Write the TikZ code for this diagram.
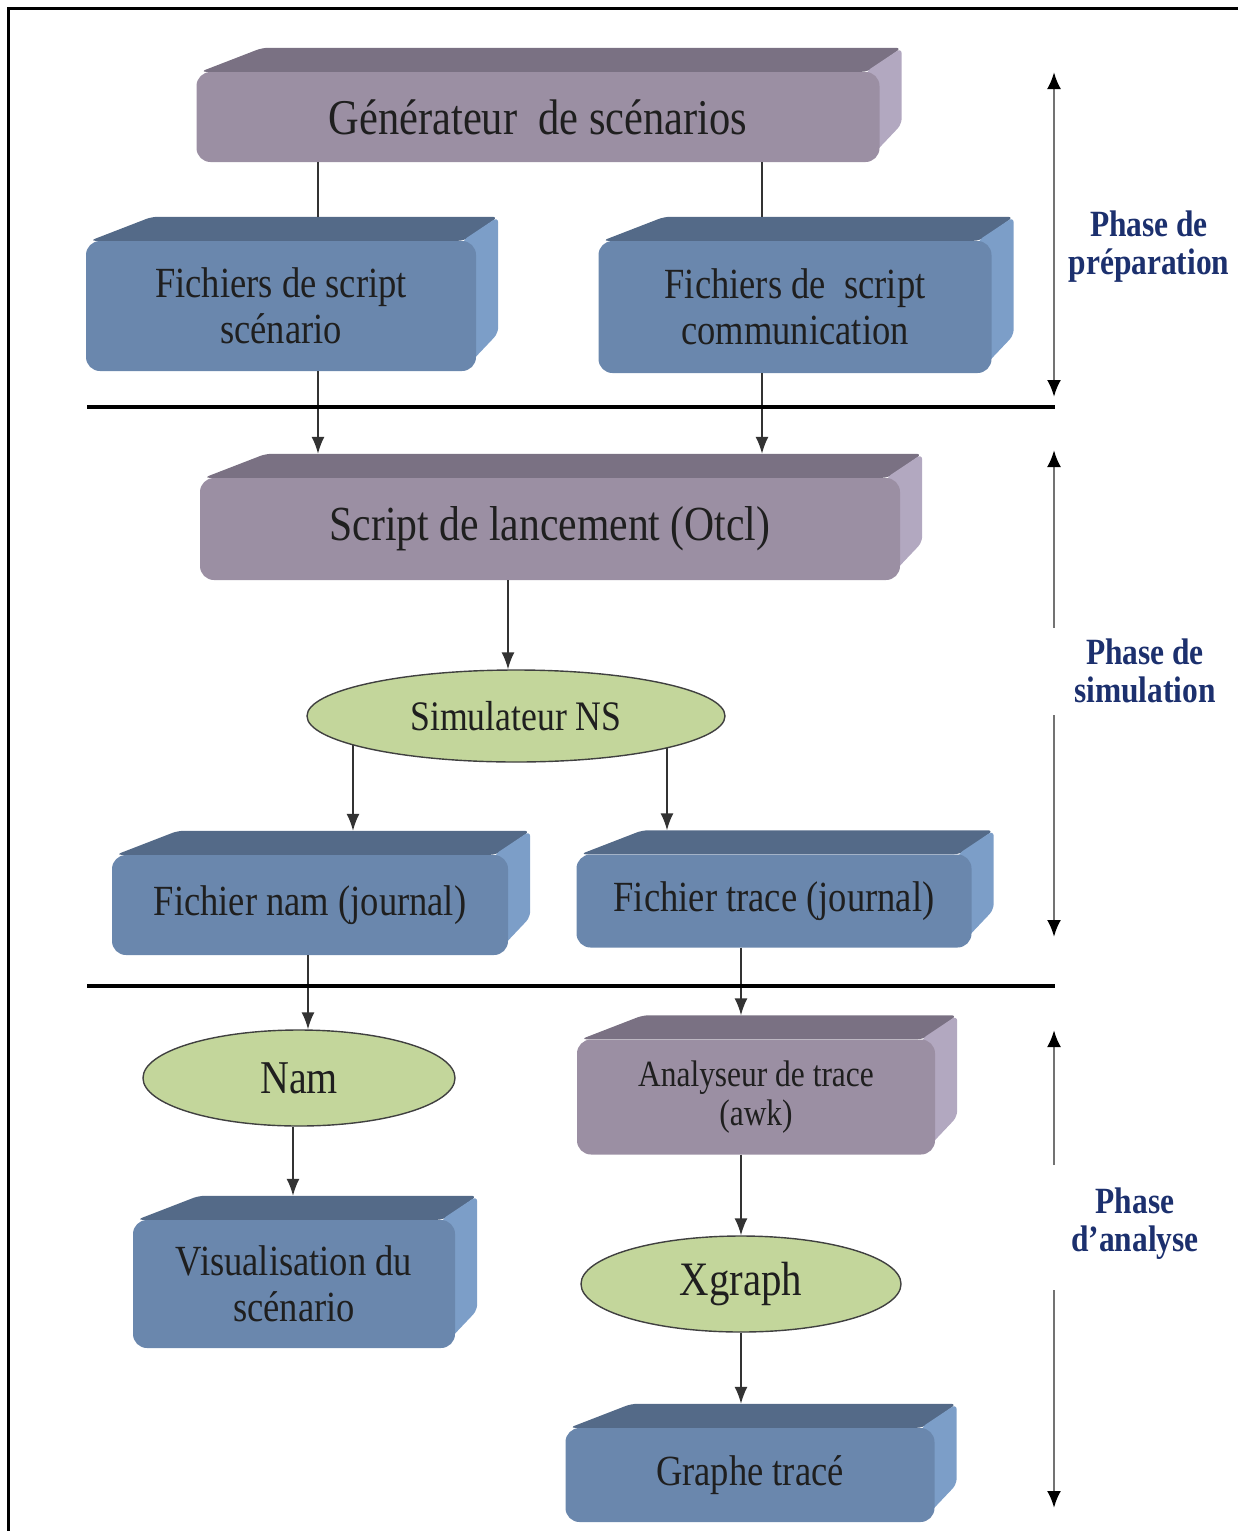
\documentclass[tikz,border=0pt]{standalone}
\usepackage{fontspec}
\setmainfont{Liberation Serif}[FakeStretch=0.85]
\usepackage{tikz}
\usetikzlibrary{arrows.meta,positioning,calc,shapes.geometric,backgrounds}
\definecolor{mauve}{RGB}{155,143,163}
\definecolor{mauveTop}{RGB}{122,113,131}
\definecolor{mauveSide}{RGB}{178,168,192}
\definecolor{steel}{RGB}{106,135,173}
\definecolor{steelTop}{RGB}{84,106,136}
\definecolor{steelSide}{RGB}{124,158,200}
\definecolor{sage}{RGB}{195,214,155}
\definecolor{InkNavy}{RGB}{28,48,110}

\begin{document}
\begin{tikzpicture}[x=1pt, y=-1pt,
    slab/.style    = {rectangle, rounded corners=14pt, inner sep=0pt,
                      align=center, text=black!88,
                      font=\fontsize{43}{46}\selectfont},
    oval/.style    = {ellipse, draw=black!75, line width=1.4pt, fill=sage,
                      inner sep=0pt, text=black!88,
                      font=\fontsize{43}{46}\selectfont},
    phase/.style   = {align=center, text=InkNavy,
                      font=\bfseries\fontsize{37}{38}\selectfont},
    link/.style    = {line width=1.6pt, black!80},
    arr/.style     = {link, -{Latex[length=17pt,width=13pt]}},
    span/.style    = {line width=2.6pt, black!55},
    sepline/.style = {line width=4pt, black},
]

\useasboundingbox (0,0) rectangle (1237,1531);
\draw[line width=3pt] (8,8) rectangle (1260,1560);

% ─── Column positions for connectors ────────────────────────────────────
\coordinate (colA) at (318,0);
\coordinate (colB) at (762,0);
\coordinate (colC) at (508,0);
\coordinate (colD) at (353,0);
\coordinate (colE) at (667,0);
\coordinate (colF) at (308,0);
\coordinate (colG) at (741,0);
\coordinate (colH) at (293,0);

% ─── Preparation ────────────────────────────────────────────────────────
\node[slab, fill=mauve, minimum width=683pt, minimum height=90pt,
      font=\fontsize{50}{54}\selectfont] (gen) at (538,117)
    {Générateur~ de scénarios};

\node[slab, fill=steel, minimum width=390pt, minimum height=130pt] (fsc) at (281,306)
    {Fichiers de script\\scénario};
\node[slab, fill=steel, minimum width=393pt, minimum height=132pt] (fcom) at (795,307)
    {Fichiers de~ script\\communication};

% ─── Simulation ─────────────────────────────────────────────────────────
\node[slab, fill=mauve, minimum width=700pt, minimum height=102pt,
      font=\fontsize{49}{53}\selectfont] (lanc) at (550,529)
    {Script de lancement (Otcl)};

\node[oval, minimum width=418pt, minimum height=92pt,
      font=\fontsize{42}{46}\selectfont] (sim) at (516,716)
    {Simulateur NS};

\node[slab, fill=steel, minimum width=396pt, minimum height=100pt] (fnam) at (310,905)
    {Fichier nam (journal)};
\node[slab, fill=steel, minimum width=395pt, minimum height=93pt] (ftrace) at (774,901)
    {Fichier trace (journal)};

% ─── Analyse ────────────────────────────────────────────────────────────
\node[oval, minimum width=312pt, minimum height=96pt,
      font=\fontsize{47}{51}\selectfont] (nam) at (299,1078)
    {Nam};
\node[slab, fill=steel, minimum width=322pt, minimum height=128pt] (vis) at (294,1284)
    {Visualisation du\\scénario};

\node[slab, fill=mauve, minimum width=358pt, minimum height=115pt,
      font=\fontsize{37}{39}\selectfont] (ana) at (756,1097)
    {Analyseur de trace\\(awk)};
\node[oval, minimum width=320pt, minimum height=96pt,
      font=\fontsize{48}{52}\selectfont] (xg) at (741,1284)
    {Xgraph};
\node[slab, fill=steel, minimum width=369pt, minimum height=94pt] (graphe) at (750,1475)
    {Graphe tracé};

% ─── Top and side faces of the slabs ────────────────────────────────────
\begin{scope}[on background layer]
\foreach \n/\c in {gen/mauve, fsc/steel, fcom/steel, lanc/mauve, fnam/steel,
                   ftrace/steel, vis/steel, ana/mauve, graphe/steel}{
  \fill[\c Top, rounded corners=6pt]
    ([xshift=4pt]\n.north west) -- ([shift={(66,-24)}]\n.north west)
    -- ([shift={(22,-24)}]\n.north east) -- ([xshift=-12pt]\n.north east) -- cycle;
  \fill[\c Side, rounded corners=6pt]
    ([xshift=-14pt]\n.north east) -- ([shift={(22,-24)}]\n.north east)
    -- ([shift={(22,-38)}]\n.south east) -- ([xshift=-14pt]\n.south east) -- cycle;
  \coordinate (\n-top) at ([yshift=24pt]\n.north);
}
\end{scope}

% Connectors
\draw[link] (gen.south -| colA) -- (fsc-top -| colA);
\draw[link] (gen.south -| colB) -- (fcom-top -| colB);
\draw[arr] (fsc.south -| colA) -- (lanc-top -| colA);
\draw[arr] (fcom.south -| colB) -- (lanc-top -| colB);
\draw[arr] (lanc.south -| colC) -- (sim.north -| colC);
\begin{scope}[on background layer]
\draw[arr] (sim.center -| colD) -- (fnam-top -| colD);
\draw[arr] (sim.center -| colE) -- (ftrace-top -| colE);
\end{scope}
\draw[arr] (fnam.south -| colF) -- (nam.north -| colF);
\draw[arr] (ftrace.south -| colG) -- (ana-top -| colG);
\draw[arr] (nam.south -| colH) -- (vis-top -| colH);
\draw[arr] (ana.south -| colG) -- (xg.north -| colG);
\draw[arr] (xg.south -| colG) -- (graphe-top -| colG);

% Phase separators
\coordinate (sepA-l) at (87,407);  \coordinate (sepA-r) at (1055,407);
\coordinate (sepB-l) at (87,986);  \coordinate (sepB-r) at (1055,986);
\draw[sepline] (sepA-l) -- (sepA-r);
\draw[sepline] (sepB-l) -- (sepB-r);

% Phase labels and spans
\node[phase] (phPrep) at (1149,247) {Phase de\\préparation};
\node[phase] (phSim)  at (1145,671) {Phase de\\simulation};
\node[phase] (phAna)  at (1135,1224) {Phase\\d’analyse};

\coordinate (prepTop) at (1054,72);   \coordinate (prepBot) at (1054,397);
\coordinate (simUp) at (1054,450);    \coordinate (simUpEnd) at (1054,628);
\coordinate (simDnEnd) at (1054,715); \coordinate (simDn) at (1054,937);
\coordinate (anaUp) at (1054,1030);   \coordinate (anaUpEnd) at (1054,1165);
\coordinate (anaDnEnd) at (1054,1290);\coordinate (anaDn) at (1054,1508);

\draw[span, {Latex[length=17pt,width=14pt,color=black]}-{Latex[length=17pt,width=14pt,color=black]}]
    (prepTop) -- (prepBot);
\draw[span, -{Latex[length=17pt,width=14pt,color=black]}] (simUpEnd) -- (simUp);
\draw[span, -{Latex[length=17pt,width=14pt,color=black]}] (simDnEnd) -- (simDn);
\draw[span, -{Latex[length=17pt,width=14pt,color=black]}] (anaUpEnd) -- (anaUp);
\draw[span, -{Latex[length=17pt,width=14pt,color=black]}] (anaDnEnd) -- (anaDn);

\end{tikzpicture}
\end{document}
